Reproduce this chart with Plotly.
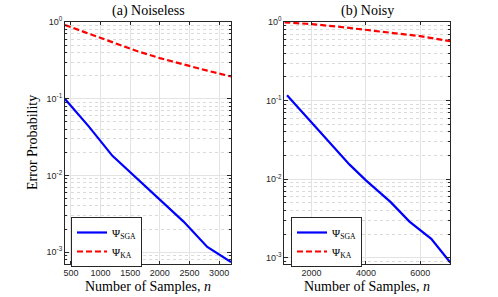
import plotly.graph_objects as go

# ---- data ----
n_noiseless = [400, 800, 1200, 1600, 2000, 2400, 2800, 3200]
sga_noiseless = [0.099, 0.0436, 0.018, 0.0094, 0.0049, 0.0025, 0.00117, 0.00074]
ka_noiseless = [0.914, 0.706, 0.544, 0.421, 0.338, 0.278, 0.232, 0.195]

n_noisy_sga = [1100, 2000, 2700, 3400, 4000, 4900, 5600, 6400, 7100]
sga_noisy = [0.117, 0.0526, 0.0284, 0.0153, 0.00966, 0.00513, 0.00288, 0.00174, 0.00087]
n_noisy_ka = [1000, 2000, 3000, 4000, 5000, 6000, 7100]
ka_noisy = [0.99, 0.94, 0.87, 0.79, 0.72, 0.66, 0.57]

xticks_a = [500, 1000, 1500, 2000, 2500, 3000]
xticks_b = [2000, 4000, 6000]
yticks = [1e-3, 1e-2, 1e-1, 1]
yticktext = ["10<sup>-3</sup>", "10<sup>-2</sup>", "10<sup>-1</sup>", "10<sup>0</sup>"]
minor_y = [k * 10.0 ** e for e in range(-4, 0) for k in range(2, 10)]

SERIF = "Liberation Serif"
SANS = "Liberation Sans"
AX = "#262626"

fig = go.Figure()
fig.add_trace(go.Scatter(x=n_noiseless, y=sga_noiseless, mode="lines",
                         line=dict(color="#0000ff", width=2.2),
                         name="Ψ<sub>SGA</sub>", xaxis="x", yaxis="y", legend="legend"))
fig.add_trace(go.Scatter(x=n_noiseless, y=ka_noiseless, mode="lines",
                         line=dict(color="#ff0000", width=2.2, dash="6px,3px"),
                         name="Ψ<sub>KA</sub>", xaxis="x", yaxis="y", legend="legend"))
fig.add_trace(go.Scatter(x=n_noisy_sga, y=sga_noisy, mode="lines",
                         line=dict(color="#0000ff", width=2.2),
                         name="Ψ<sub>SGA</sub>", xaxis="x2", yaxis="y2", legend="legend2"))
fig.add_trace(go.Scatter(x=n_noisy_ka, y=ka_noisy, mode="lines",
                         line=dict(color="#ff0000", width=2.2, dash="6px,3px"),
                         name="Ψ<sub>KA</sub>", xaxis="x2", yaxis="y2", legend="legend2"))

def xaxis(domain, rng, ticks, anchor):
    return dict(domain=domain, range=rng, tickvals=ticks, anchor=anchor, automargin=False,
                showline=True, linecolor=AX, linewidth=1, mirror="ticks",
                ticks="inside", ticklen=3, tickcolor=AX,
                showgrid=True, gridcolor="#e3e3e3", gridwidth=1, zeroline=False,
                tickfont=dict(family=SANS, size=9, color=AX))

def yaxis(domain, rng, anchor):
    return dict(domain=domain, type="log", range=rng, anchor=anchor, automargin=False,
                tickvals=yticks, ticktext=yticktext,
                showline=True, linecolor=AX, linewidth=1, mirror="ticks",
                ticks="inside", ticklen=4, tickcolor=AX,
                showgrid=True, gridcolor="#e3e3e3", gridwidth=1, zeroline=False,
                tickfont=dict(family=SANS, size=9, color=AX),
                minor=dict(tickvals=minor_y, ticks="inside", ticklen=2, tickcolor=AX,
                           showgrid=True, gridcolor="#dadada", griddash="dot", gridwidth=1))

def legend(x):
    return dict(x=x, y=1 - 217 / 297, xanchor="left", yanchor="top",
                bgcolor="white", bordercolor=AX, borderwidth=1,
                font=dict(family=SERIF, size=11, color="#000"),
                itemwidth=30, tracegroupgap=0)

def text(t, x, y, size=14, angle=0):
    return dict(text=t, x=x / 498, y=1 - y / 297, xref="paper", yref="paper",
                showarrow=False, xanchor="center", yanchor="middle", textangle=angle,
                font=dict(family=SERIF, size=size, color="#000"))

ydom = [1 - 264 / 297, 1 - 22 / 297]
fig.update_layout(
    width=498, height=297,
    margin=dict(l=0, r=0, t=0, b=0),
    paper_bgcolor="white", plot_bgcolor="white",
    xaxis=xaxis([65 / 498, 231 / 498], [400, 3200], xticks_a, "y"),
    yaxis=yaxis(ydom, [-3.155, 0], "x"),
    xaxis2=xaxis([284.3 / 498, 450.3 / 498], [1000, 7100], xticks_b, "y2"),
    yaxis2=yaxis(ydom, [-3.08, 0], "x2"),
    legend=legend(71 / 498),
    legend2=legend(291 / 498),
    showlegend=True,
    annotations=[
        text("(a) Noiseless", 148, 11),
        text("(b) Noisy", 367.3, 11),
        text("Number of Samples, <i>n</i>", 148, 286.5),
        text("Number of Samples, <i>n</i>", 367.3, 286.5),
        text("Error Probability", 33, 143, angle=-90),
    ],
)

fig.write_html("out.html", config={"displayModeBar": False},
               post_script="document.body.style.margin='0';document.body.style.overflow='hidden';")
